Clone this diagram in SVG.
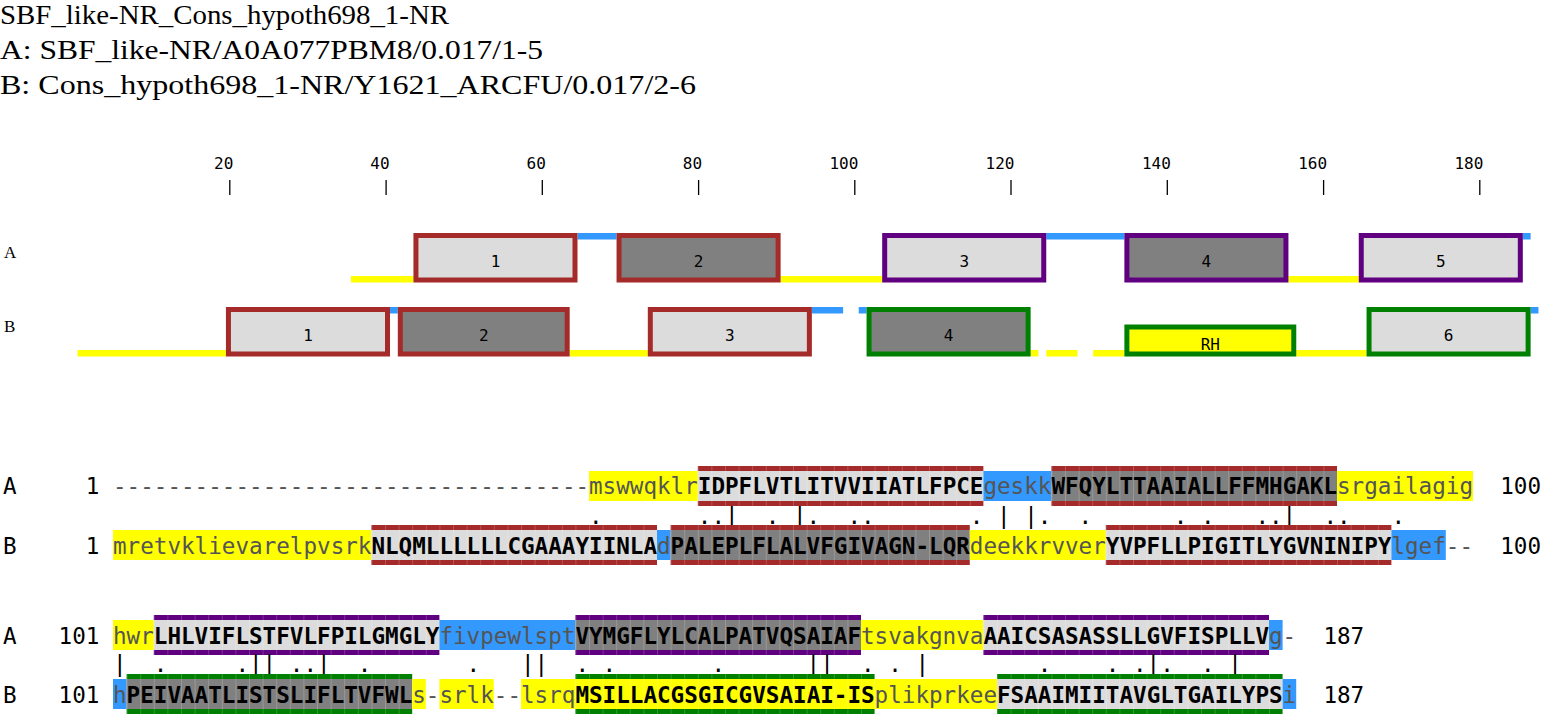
<svg xmlns="http://www.w3.org/2000/svg" width="1542" height="714" viewBox="0 0 1542 714">
<style>
.hd{font-family:"Liberation Serif",serif;font-size:27px;fill:#000}
.tl{font-family:"Liberation Serif",serif;font-size:17px;fill:#000}
.sm{font-family:"DejaVu Sans Mono",monospace;font-size:16px;fill:#000}
.mono{font-family:"DejaVu Sans Mono",monospace;font-size:22.6px}
.lc{fill:#555}
.uc{fill:#000;font-weight:bold}
.k{fill:#000}
.y{fill:#ffff00}
.b{fill:#3399ff}
.gl{fill:#dcdcdc}
.gd{fill:#808080}
.sr{fill:#a52a2a}
.sp{fill:#600080}
.sg{fill:#008000}
.bx{stroke-width:5}
.br{stroke:#a52a2a}
.bp{stroke:#600080}
.bg{stroke:#008000}
.tick{stroke:#000;stroke-width:1.3}
.seam{fill:url(#seam)}
</style>
<defs>
<pattern id="seam" x="113" y="0" width="13.6" height="20" patternUnits="userSpaceOnUse">
<rect x="0" y="0" width="0.9" height="20" fill="#ffffff" fill-opacity="0.2"/>
</pattern>
</defs>
<rect width="1542" height="714" fill="#fff"/>

<g id="header">
<text class="hd" x="0" y="24" textLength="449" lengthAdjust="spacingAndGlyphs">SBF_like-NR_Cons_hypoth698_1-NR</text>
<text class="hd" x="0" y="59" textLength="543" lengthAdjust="spacingAndGlyphs">A: SBF_like-NR/A0A077PBM8/0.017/1-5</text>
<text class="hd" x="0" y="94" textLength="696" lengthAdjust="spacingAndGlyphs">B: Cons_hypoth698_1-NR/Y1621_ARCFU/0.017/2-6</text>
</g>

<g id="ruler">
<g text-anchor="end" class="sm">
<text x="233.3" y="169">20</text>
<text x="389.6" y="169">40</text>
<text x="545.8" y="169">60</text>
<text x="702.1" y="169">80</text>
<text x="858.3" y="169">100</text>
<text x="1014.5" y="169">120</text>
<text x="1170.8" y="169">140</text>
<text x="1327.1" y="169">160</text>
<text x="1483.3" y="169">180</text>
</g>
<g class="tick">
<line x1="229.8" y1="180" x2="229.8" y2="195"/>
<line x1="386.1" y1="180" x2="386.1" y2="195"/>
<line x1="542.3" y1="180" x2="542.3" y2="195"/>
<line x1="698.6" y1="180" x2="698.6" y2="195"/>
<line x1="854.8" y1="180" x2="854.8" y2="195"/>
<line x1="1011" y1="180" x2="1011" y2="195"/>
<line x1="1167.3" y1="180" x2="1167.3" y2="195"/>
<line x1="1323.6" y1="180" x2="1323.6" y2="195"/>
<line x1="1479.8" y1="180" x2="1479.8" y2="195"/>
</g>
</g>

<g id="trackA">
<text class="tl" x="4" y="258">A</text>
<rect class="y" x="350.94" y="276" width="62.5" height="6.5"/>
<rect class="b" x="577.5" y="233" width="39.06" height="6.5"/>
<rect class="y" x="780.63" y="276" width="101.56" height="6.5"/>
<rect class="b" x="1046.25" y="233" width="78.13" height="6.5"/>
<rect class="y" x="1288.44" y="276" width="70.31" height="6.5"/>
<rect class="b" x="1522.81" y="233" width="7.81" height="6.5"/>
<g id="A1"><rect class="gl bx br" x="415.94" y="235.5" width="159.06" height="44.5"/><text class="sm" x="495.5" y="266.5" text-anchor="middle">1</text></g>
<g id="A2"><rect class="gd bx br" x="619.06" y="235.5" width="159.06" height="44.5"/><text class="sm" x="698.6" y="266.5" text-anchor="middle">2</text></g>
<g id="A3"><rect class="gl bx bp" x="884.69" y="235.5" width="159.06" height="44.5"/><text class="sm" x="964.2" y="266.5" text-anchor="middle">3</text></g>
<g id="A4"><rect class="gd bx bp" x="1126.88" y="235.5" width="159.06" height="44.5"/><text class="sm" x="1206.4" y="266.5" text-anchor="middle">4</text></g>
<g id="A5"><rect class="gl bx bp" x="1361.25" y="235.5" width="159.06" height="44.5"/><text class="sm" x="1440.8" y="266.5" text-anchor="middle">5</text></g>
</g>

<g id="trackB">
<text class="tl" x="4" y="332">B</text>
<rect class="y" x="77.5" y="350" width="148.44" height="6.5"/>
<rect class="b" x="390" y="307" width="7.81" height="6.5"/>
<rect class="y" x="569.69" y="350" width="78.13" height="6.5"/>
<rect class="b" x="811.88" y="307" width="31.25" height="6.5"/>
<rect class="b" x="858.75" y="307" width="7.81" height="6.5"/>
<rect class="y" x="1030.63" y="350" width="7.81" height="6.5"/>
<rect class="y" x="1046.25" y="350" width="31.25" height="6.5"/>
<rect class="y" x="1093.13" y="350" width="31.25" height="6.5"/>
<rect class="y" x="1296.25" y="350" width="70.31" height="6.5"/>
<rect class="b" x="1530.63" y="307" width="7.81" height="6.5"/>
<g id="B1"><rect class="gl bx br" x="228.44" y="309.5" width="159.06" height="44.5"/><text class="sm" x="308" y="341" text-anchor="middle">1</text></g>
<g id="B2"><rect class="gd bx br" x="400.31" y="309.5" width="166.88" height="44.5"/><text class="sm" x="483.8" y="341" text-anchor="middle">2</text></g>
<g id="B3"><rect class="gl bx br" x="650.31" y="309.5" width="159.06" height="44.5"/><text class="sm" x="729.8" y="341" text-anchor="middle">3</text></g>
<g id="B4"><rect class="gd bx bg" x="869.06" y="309.5" width="159.06" height="44.5"/><text class="sm" x="948.6" y="341" text-anchor="middle">4</text></g>
<g id="BRH"><rect class="y bx bg" x="1126.88" y="327" width="166.88" height="27"/><text class="sm" x="1210.3" y="349.5" text-anchor="middle">RH</text></g>
<g id="B6"><rect class="gl bx bg" x="1369.06" y="309.5" width="159.06" height="44.5"/><text class="sm" x="1448.6" y="341" text-anchor="middle">6</text></g>
</g>

<g id="align1" class="mono">
<g id="rowA1">
<text class="k" x="3" y="494">A</text>
<text class="k" x="99.4" y="494" text-anchor="end">1</text>
<text class="lc" x="113" y="494">-----------------------------------</text>
<rect class="y" x="589" y="471" width="108.8" height="30"/>
<text class="lc" x="589" y="494">mswwqklr</text>
<rect class="gl" x="697.8" y="471" width="285.6" height="30"/>
<rect class="sr" x="697.8" y="466" width="285.6" height="5"/>
<rect class="sr" x="697.8" y="501" width="285.6" height="5"/>
<rect class="seam" x="697.8" y="466" width="285.6" height="40"/>
<text class="uc" x="697.8" y="494">IDPFLVTLITVVIIATLFPCE</text>
<rect class="b" x="983.4" y="471" width="68" height="30"/>
<text class="lc" x="983.4" y="494">geskk</text>
<rect class="gd" x="1051.4" y="471" width="285.6" height="30"/>
<rect class="sr" x="1051.4" y="466" width="285.6" height="5"/>
<rect class="sr" x="1051.4" y="501" width="285.6" height="5"/>
<rect class="seam" x="1051.4" y="466" width="285.6" height="40"/>
<text class="uc" x="1051.4" y="494">WFQYLTTAAIALLFFMHGAKL</text>
<rect class="y" x="1337" y="471" width="136" height="30"/>
<text class="lc" x="1337" y="494">srgailagig</text>
<text class="k" x="1500.2" y="494">100</text>
</g>
<text id="match1" class="k" y="523.5" x="589 697.8 711.4 725 765.8 793 806.6 847.4 861 969.8 997 1024.2 1037.8 1078.6 1173.8 1201 1255.4 1269 1282.6 1323.4 1337 1391.4">...|.|....||......|...</text>
<g id="rowB1">
<text class="k" x="3" y="553.5">B</text>
<text class="k" x="99.4" y="553.5" text-anchor="end">1</text>
<rect class="y" x="113" y="530" width="258.4" height="30"/>
<text class="lc" x="113" y="553.5">mretvklievarelpvsrk</text>
<rect class="gl" x="371.4" y="530" width="285.6" height="30"/>
<rect class="sr" x="371.4" y="525" width="285.6" height="5"/>
<rect class="sr" x="371.4" y="560" width="285.6" height="5"/>
<rect class="seam" x="371.4" y="525" width="285.6" height="40"/>
<text class="uc" x="371.4" y="553.5">NLQMLLLLLLCGAAAYIINLA</text>
<rect class="b" x="657" y="530" width="13.6" height="30"/>
<text class="lc" x="657" y="553.5">d</text>
<rect class="gd" x="670.6" y="530" width="299.2" height="30"/>
<rect class="sr" x="670.6" y="525" width="299.2" height="5"/>
<rect class="sr" x="670.6" y="560" width="299.2" height="5"/>
<rect class="seam" x="670.6" y="525" width="299.2" height="40"/>
<text class="uc" x="670.6" y="553.5">PALEPLFLALVFGIVAGN-LQR</text>
<rect class="y" x="969.8" y="530" width="136" height="30"/>
<text class="lc" x="969.8" y="553.5">deekkrvver</text>
<rect class="gl" x="1105.8" y="530" width="285.6" height="30"/>
<rect class="sr" x="1105.8" y="525" width="285.6" height="5"/>
<rect class="sr" x="1105.8" y="560" width="285.6" height="5"/>
<rect class="seam" x="1105.8" y="525" width="285.6" height="40"/>
<text class="uc" x="1105.8" y="553.5">YVPFLLPIGITLYGVNINIPY</text>
<rect class="b" x="1391.4" y="530" width="54.4" height="30"/>
<text class="lc" x="1391.4" y="553.5">lgef</text>
<text class="lc" x="1445.8" y="553.5">--</text>
<text class="k" x="1500.2" y="553.5">100</text>
</g>
</g>

<g id="align2" class="mono">
<g id="rowA2">
<text class="k" x="3" y="643.5">A</text>
<text class="k" x="99.4" y="643.5" text-anchor="end">101</text>
<rect class="y" x="113" y="620" width="40.8" height="30"/>
<text class="lc" x="113" y="643.5">hwr</text>
<rect class="gl" x="153.8" y="620" width="285.6" height="30"/>
<rect class="sp" x="153.8" y="615" width="285.6" height="5"/>
<rect class="sp" x="153.8" y="650" width="285.6" height="5"/>
<rect class="seam" x="153.8" y="615" width="285.6" height="40"/>
<text class="uc" x="153.8" y="643.5">LHLVIFLSTFVLFPILGMGLY</text>
<rect class="b" x="439.4" y="620" width="136" height="30"/>
<text class="lc" x="439.4" y="643.5">fivpewlspt</text>
<rect class="gd" x="575.4" y="620" width="285.6" height="30"/>
<rect class="sp" x="575.4" y="615" width="285.6" height="5"/>
<rect class="sp" x="575.4" y="650" width="285.6" height="5"/>
<rect class="seam" x="575.4" y="615" width="285.6" height="40"/>
<text class="uc" x="575.4" y="643.5">VYMGFLYLCALPATVQSAIAF</text>
<rect class="y" x="861" y="620" width="122.4" height="30"/>
<text class="lc" x="861" y="643.5">tsvakgnva</text>
<rect class="gl" x="983.4" y="620" width="285.6" height="30"/>
<rect class="sp" x="983.4" y="615" width="285.6" height="5"/>
<rect class="sp" x="983.4" y="650" width="285.6" height="5"/>
<rect class="seam" x="983.4" y="615" width="285.6" height="40"/>
<text class="uc" x="983.4" y="643.5">AAICSASASSLLGVFISPLLV</text>
<rect class="b" x="1269" y="620" width="13.6" height="30"/>
<text class="lc" x="1269" y="643.5">g</text>
<text class="lc" x="1282.6" y="643.5">-</text>
<text class="k" x="1323.4" y="643.5">187</text>
</g>
<text id="match2" class="k" y="672" x="113 153.8 235.4 249 262.6 289.8 303.4 317 357.8 466.6 521 534.6 575.4 602.6 711.4 806.6 820.2 861 888.2 915.4 1037.8 1105.8 1133 1146.6 1160.2 1201 1228.2">|..||..|..||...||..|...|..|</text>
<g id="rowB2">
<text class="k" x="3" y="702.5">B</text>
<text class="k" x="99.4" y="702.5" text-anchor="end">101</text>
<rect class="b" x="113" y="679" width="13.6" height="30"/>
<text class="lc" x="113" y="702.5">h</text>
<rect class="gd" x="126.6" y="679" width="285.6" height="30"/>
<rect class="sg" x="126.6" y="674" width="285.6" height="5"/>
<rect class="sg" x="126.6" y="709" width="285.6" height="5"/>
<rect class="seam" x="126.6" y="674" width="285.6" height="40"/>
<text class="uc" x="126.6" y="702.5">PEIVAATLISTSLIFLTVFWL</text>
<rect class="y" x="412.2" y="679" width="13.6" height="30"/>
<text class="lc" x="412.2" y="702.5">s</text>
<text class="lc" x="425.8" y="702.5">-</text>
<rect class="y" x="439.4" y="679" width="54.4" height="30"/>
<text class="lc" x="439.4" y="702.5">srlk</text>
<text class="lc" x="493.8" y="702.5">--</text>
<rect class="y" x="521" y="679" width="54.4" height="30"/>
<text class="lc" x="521" y="702.5">lsrq</text>
<rect class="y" x="575.4" y="679" width="299.2" height="30"/>
<rect class="sg" x="575.4" y="674" width="299.2" height="5"/>
<rect class="sg" x="575.4" y="709" width="299.2" height="5"/>
<rect class="seam" x="575.4" y="674" width="299.2" height="40"/>
<text class="uc" x="575.4" y="702.5">MSILLACGSGICGVSAIAI-IS</text>
<rect class="y" x="874.6" y="679" width="122.4" height="30"/>
<text class="lc" x="874.6" y="702.5">plikprkee</text>
<rect class="gl" x="997" y="679" width="285.6" height="30"/>
<rect class="sg" x="997" y="674" width="285.6" height="5"/>
<rect class="sg" x="997" y="709" width="285.6" height="5"/>
<rect class="seam" x="997" y="674" width="285.6" height="40"/>
<text class="uc" x="997" y="702.5">FSAAIMIITAVGLTGAILYPS</text>
<rect class="b" x="1282.6" y="679" width="13.6" height="30"/>
<text class="lc" x="1282.6" y="702.5">i</text>
<text class="k" x="1323.4" y="702.5">187</text>
</g>
</g>
</svg>
